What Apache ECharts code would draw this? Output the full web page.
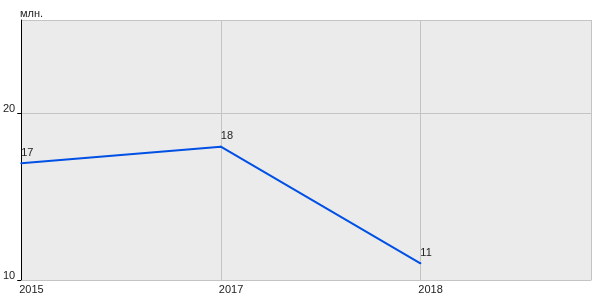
<!DOCTYPE html>
<html><head><meta charset="utf-8">
<script src="https://cdn.jsdelivr.net/npm/echarts@6/dist/echarts.min.js"></script>
<style>html,body{margin:0;padding:0;background:#fff}#c{width:600px;height:300px}</style>
</head><body><div id="c"></div>
<script>
const years = ['2015', '2017', '2018'];
const values = [17, 18, 11];
const yTicks = [10, 20];
const unitLabel = 'млн.';

const chart = echarts.init(document.getElementById('c'), null, {renderer: 'canvas'});
const font = 'Liberation Sans, Arial, sans-serif';
chart.setOption({
  animation: false,
  textStyle: {fontFamily: font},
  title: {text: unitLabel, left: 20, top: 8, padding: 0, textStyle: {fontSize: 11, fontWeight: 'normal', color: '#222', fontFamily: font}},
  grid: {left: 20, right: 9, top: 20, bottom: 20, show: true, backgroundColor: '#ebebeb', borderWidth: 0},
  xAxis: {
    type: 'value', min: 0, max: 2.855, interval: 1,
    axisLine: {show: true, lineStyle: {color: '#c4c4c4', width: 1}},
    axisTick: {show: false},
    splitLine: {show: true, lineStyle: {color: '#c4c4c4', width: 1}},
    axisLabel: {
      showMaxLabel: false, align: 'left', margin: 4, fontSize: 11, color: '#222', fontFamily: font, padding: [0, 0, 0, -2],
      formatter: v => years[Math.round(v)] !== undefined && Math.abs(v - Math.round(v)) < 1e-6 ? years[Math.round(v)] : ''
    }
  },
  yAxis: {
    type: 'value', min: yTicks[0], max: 25.6, interval: yTicks[1] - yTicks[0],
    axisLine: {show: true, lineStyle: {color: '#000', width: 1}},
    axisTick: {show: true, length: 4, lineStyle: {color: '#000'}},
    splitLine: {show: true, lineStyle: {color: '#c4c4c4', width: 1}},
    axisLabel: {showMaxLabel: false, margin: 6, fontSize: 11, color: '#222', fontFamily: font, verticalAlign: 'bottom', lineHeight: 8}
  },
  series: [{
    type: 'line',
    data: values.map((v, i) => [i, v]),
    showSymbol: true,
    symbol: 'circle',
    symbolSize: 2,
    lineStyle: {color: '#0050e6', width: 2},
    itemStyle: {color: '#0050e6'},
    label: {show: true, position: 'top', align: 'left', distance: 4, fontSize: 11, color: '#222', fontFamily: font,
      formatter: p => String(p.value[1])}
  }]
});
</script></body></html>
